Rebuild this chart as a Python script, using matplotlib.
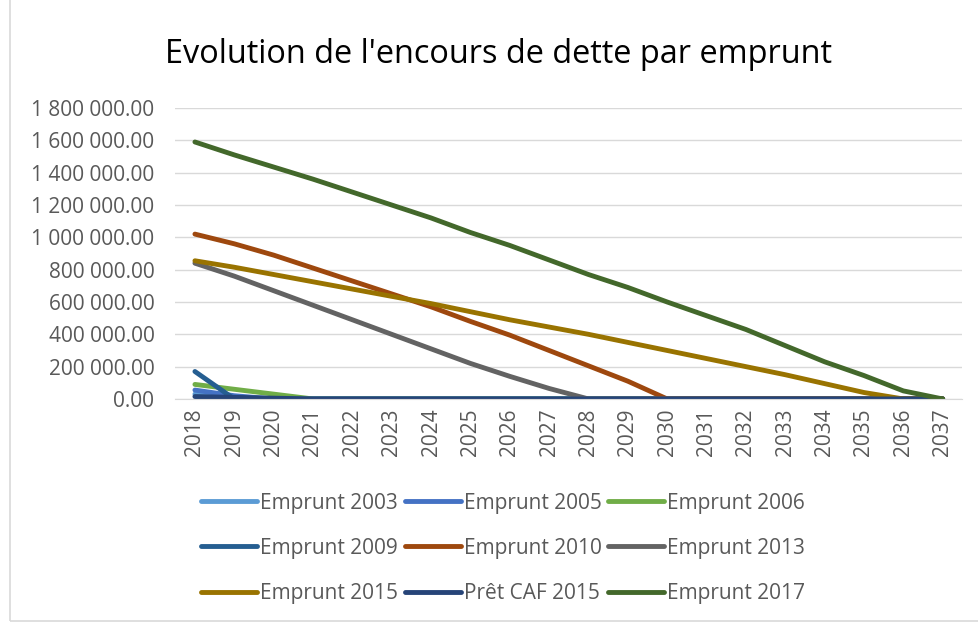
import matplotlib
matplotlib.use("Agg")
import matplotlib.pyplot as plt
from matplotlib.ticker import FuncFormatter, MultipleLocator
from matplotlib.patches import Rectangle

years = [str(y) for y in range(2018, 2038)]

e2003 = [30000, 0, 0, 0, 0, 0, 0, 0, 0, 0, 0, 0, 0, 0, 0, 0, 0, 0, 0, 0]
e2005 = [55000, 20000, 0, 0, 0, 0, 0, 0, 0, 0, 0, 0, 0, 0, 0, 0, 0, 0, 0, 0]
e2006 = [90000, 60000, 30000, 0, 0, 0, 0, 0, 0, 0, 0, 0, 0, 0, 0, 0, 0, 0, 0, 0]
e2009 = [170000, 0, 0, 0, 0, 0, 0, 0, 0, 0, 0, 0, 0, 0, 0, 0, 0, 0, 0, 0]
e2010 = [1020000, 960000, 890000, 810000, 730000, 650000, 570000, 480000, 395000,
         300000, 205000, 110000, 0, 0, 0, 0, 0, 0, 0, 0]
e2013 = [840000, 760000, 670000, 580000, 490000, 400000, 310000, 220000, 140000,
         65000, 0, 0, 0, 0, 0, 0, 0, 0, 0, 0]
e2015 = [855000, 815000, 770000, 725000, 680000, 635000, 590000, 540000, 490000,
         445000, 400000, 350000, 300000, 250000, 200000, 150000, 95000, 40000, 0, 0]
caf2015 = [15000, 10000, 5000, 0, 0, 0, 0, 0, 0, 0, 0, 0, 0, 0, 0, 0, 0, 0, 0, 0]
e2017 = [1590000, 1510000, 1435000, 1360000, 1280000, 1200000, 1120000, 1030000,
         950000, 860000, 770000, 690000, 600000, 515000, 430000, 330000, 230000,
         145000, 50000, 0]

series = [
    ("Emprunt 2003", e2003, "#5B9BD5"),
    ("Emprunt 2005", e2005, "#4472C4"),
    ("Emprunt 2006", e2006, "#70AD47"),
    ("Emprunt 2009", e2009, "#255E91"),
    ("Emprunt 2010", e2010, "#9E480E"),
    ("Emprunt 2013", e2013, "#636363"),
    ("Emprunt 2015", e2015, "#997300"),
    ("Prêt CAF 2015", caf2015, "#264478"),
    ("Emprunt 2017", e2017, "#43682B"),
]

plt.rcParams['font.family'] = ['Open Sans', 'DejaVu Sans']

fig = plt.figure(figsize=(9.79, 6.23), dpi=100)
fig.patches.append(Rectangle((0.01, 0.004), 0.99, 1.2, transform=fig.transFigure,
                             fill=False, edgecolor="#D9D9D9", linewidth=1.2))
ax = fig.add_axes([0.179, 0.3596, 0.804, 0.467])

x = list(range(len(years)))
handles = []
for name, vals, col in series:
    h, = ax.plot(x, vals, color=col, linewidth=3.5, label=name, solid_capstyle="round")
    handles.append(h)

ax.set_xlim(-0.5, len(years) - 0.5)
ax.set_ylim(0, 1800000)
ax.yaxis.set_major_locator(MultipleLocator(200000))
ax.yaxis.set_major_formatter(FuncFormatter(lambda v, p: f"{v:,.2f}".replace(",", " ")))
ax.set_xticks(x)
ax.set_xticklabels(years, rotation=90)
ax.grid(axis="y", color="#D9D9D9", linewidth=1)
ax.set_axisbelow(True)
for s in ["top", "right", "left"]:
    ax.spines[s].set_visible(False)
ax.spines["bottom"].set_color("#D9D9D9")
ax.tick_params(axis="both", length=0, labelsize=15, colors="#595959")
ax.tick_params(axis="y", pad=15)
ax.tick_params(axis="x", pad=7)

fig.text(0.509, 0.912, "Evolution de l'encours de dette par emprunt", ha="center",
         va="center", fontsize=23.4, color="#000000")

order = [0, 3, 6, 1, 4, 7, 2, 5, 8]
leg_h = [handles[i] for i in order]
leg_l = [series[i][0] for i in order]
fig.legend(leg_h, leg_l, loc="center", bbox_to_anchor=(0.514, 0.120), ncol=3,
           frameon=False, fontsize=15, labelspacing=1.16, handlelength=2.7,
           handletextpad=0.15, columnspacing=0.3, labelcolor="#595959")

fig.savefig("out.png", dpi=100)
